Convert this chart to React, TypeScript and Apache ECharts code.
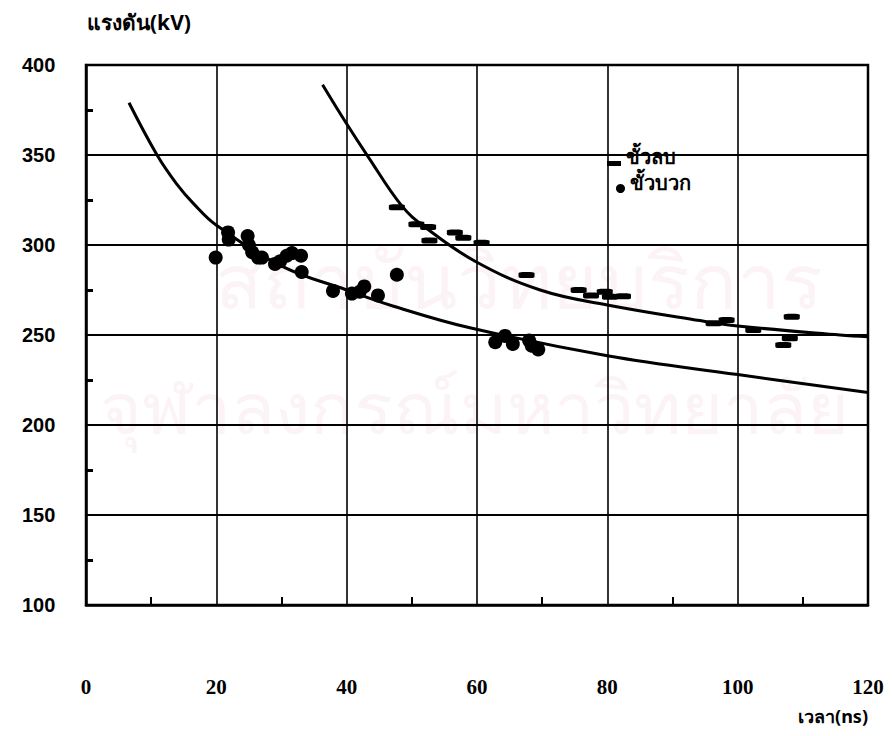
import React, { useEffect, useRef } from "react";
import * as echarts from "echarts";

// ---- data ----
const xTicks = [0, 20, 40, 60, 80, 100, 120];
const yTicks = [100, 150, 200, 250, 300, 350, 400];

// ขั้วบวก (positive polarity) measured points [time ns, kV]
const positivePoints: number[][] = [
  [19.9, 293], [21.8, 307], [21.9, 303], [24.8, 305], [25.0, 300], [25.5, 296],
  [26.4, 293], [27.0, 293], [29.0, 289.5], [29.8, 291], [30.8, 294], [31.6, 295.5],
  [33.0, 294], [33.1, 285], [37.9, 274.5], [40.8, 273], [42.0, 274], [42.7, 277],
  [44.8, 272], [47.7, 283.5], [62.8, 246], [64.3, 249.5], [65.5, 245], [68.0, 247],
  [68.4, 244], [69.4, 242],
];

// ขั้วลบ (negative polarity) measured points [time ns, kV]
const negativePoints: number[][] = [
  [47.7, 321], [50.7, 311.5], [52.5, 310], [52.7, 302.5], [56.6, 307], [57.9, 304],
  [60.7, 301.3], [67.6, 283.3], [75.6, 275], [77.5, 272], [79.6, 274], [80.4, 271.3],
  [82.4, 271.5], [96.3, 256.5], [98.3, 258.3], [102.4, 252.8], [108.3, 260.2],
  [108.0, 248.2], [107.0, 244.4],
];

// fitted curves
const positiveCurve: number[][] = [
  [6.6, 379], [10.9, 350], [13.9, 334], [16.5, 323], [20, 311], [30.2, 288],
  [40, 275], [47.2, 266], [58.9, 254], [80, 238.5], [100, 228], [120, 218],
];
const negativeCurve: number[][] = [
  [36.3, 389], [39.7, 369], [43.3, 349], [48.4, 322], [52, 310], [59.7, 291],
  [69.7, 275], [80, 266.7], [94.2, 258], [100, 255], [115.7, 250], [120, 249],
];

const legendNeg = "ขั้วลบ";
const legendPos = "ขั้วบวก";
const yTitle = "แรงดัน(kV)";
const xTitle = "เวลา(ns)";
const watermark1 = "สถาบันวิทยบริการ";
const watermark2 = "จุฬาลงกรณ์มหาวิทยาลัย";

const thaiFont = "'Noto Sans', 'DejaVu Sans', sans-serif";

export default function App() {
  const ref = useRef<HTMLDivElement>(null);
  useEffect(() => {
    if (!ref.current) return;
    const chart = echarts.init(ref.current, undefined, { renderer: "svg" });
    chart.setOption({
      animation: false,
      backgroundColor: "#ffffff",
      grid: {
        left: 86,
        right: 24,
        top: 65,
        bottom: 131,
        show: true,
        borderColor: "#000",
        borderWidth: 2.5,
        z: 1,
      },
      xAxis: {
        type: "value",
        min: xTicks[0],
        max: xTicks[xTicks.length - 1],
        interval: 20,
        axisLine: { show: true, lineStyle: { color: "#000", width: 2.5 } },
        axisTick: { show: false, inside: true },
        minorTick: { show: true, splitNumber: 2, length: 8, lineStyle: { color: "#000", width: 2 } },
        splitLine: { show: true, lineStyle: { color: "#000", width: 1.6 } },
        axisLabel: {
          margin: 71,
          color: "#000",
          fontSize: 21,
          fontWeight: "bold",
          fontFamily: "'Liberation Serif', serif",
        },
      },
      yAxis: {
        type: "value",
        min: yTicks[0],
        max: yTicks[yTicks.length - 1],
        interval: 50,
        axisLine: { show: true, lineStyle: { color: "#000", width: 2.5 } },
        axisTick: { show: false, inside: true },
        minorTick: { show: true, splitNumber: 2, length: 7, lineStyle: { color: "#000", width: 3 } },
        splitLine: { show: true, lineStyle: { color: "#000", width: 2 } },
        axisLabel: {
          margin: 64,
          align: "left",
          color: "#000",
          fontSize: 20,
          fontWeight: "bold",
          fontFamily: "'Liberation Sans', Arial, sans-serif",
        },
      },
      graphic: [
        {
          type: "text",
          left: 215,
          top: 240,
          z: -10,
          silent: true,
          style: { text: watermark1, fill: "#fcf3f7", font: `78px ${thaiFont}` },
        },
        {
          type: "text",
          left: 100,
          top: 370,
          z: -10,
          silent: true,
          style: { text: watermark2, fill: "#fcf3f7", font: `72px ${thaiFont}` },
        },
        {
          type: "text",
          left: 87,
          top: 11,
          style: { text: yTitle, fill: "#000", font: `bold 21px ${thaiFont}` },
        },
        {
          type: "text",
          right: 24,
          top: 707,
          style: { text: xTitle, fill: "#000", font: `bold 18px ${thaiFont}` },
        },
        // legend
        { type: "rect", left: 607, top: 161, shape: { width: 14, height: 5 }, style: { fill: "#000" } },
        {
          type: "text",
          left: 626,
          top: 146,
          style: { text: legendNeg, fill: "#000", font: `bold 20px ${thaiFont}` },
        },
        { type: "circle", left: 616, top: 184, shape: { r: 4.5 }, style: { fill: "#000" } },
        {
          type: "text",
          left: 630,
          top: 172,
          style: { text: legendPos, fill: "#000", font: `bold 20px ${thaiFont}` },
        },
      ],
      series: [
        {
          name: legendPos + " curve",
          type: "line",
          data: positiveCurve,
          smooth: 0.4,
          showSymbol: false,
          lineStyle: { color: "#000", width: 3 },
          z: 3,
        },
        {
          name: legendNeg + " curve",
          type: "line",
          data: negativeCurve,
          smooth: 0.4,
          showSymbol: false,
          lineStyle: { color: "#000", width: 3 },
          z: 3,
        },
        {
          name: legendPos,
          type: "scatter",
          data: positivePoints,
          symbol: "circle",
          symbolSize: 14,
          itemStyle: { color: "#000", opacity: 1 },
          z: 4,
        },
        {
          name: legendNeg,
          type: "scatter",
          data: negativePoints,
          symbol: "roundRect",
          symbolSize: [16, 6],
          itemStyle: { color: "#000", opacity: 1 },
          z: 4,
        },
      ],
    });
    return () => chart.dispose();
  }, []);
  return (
    <div
      ref={ref}
      style={{ position: "fixed", left: 0, top: 0, width: 892, height: 736 }}
    />
  );
}
